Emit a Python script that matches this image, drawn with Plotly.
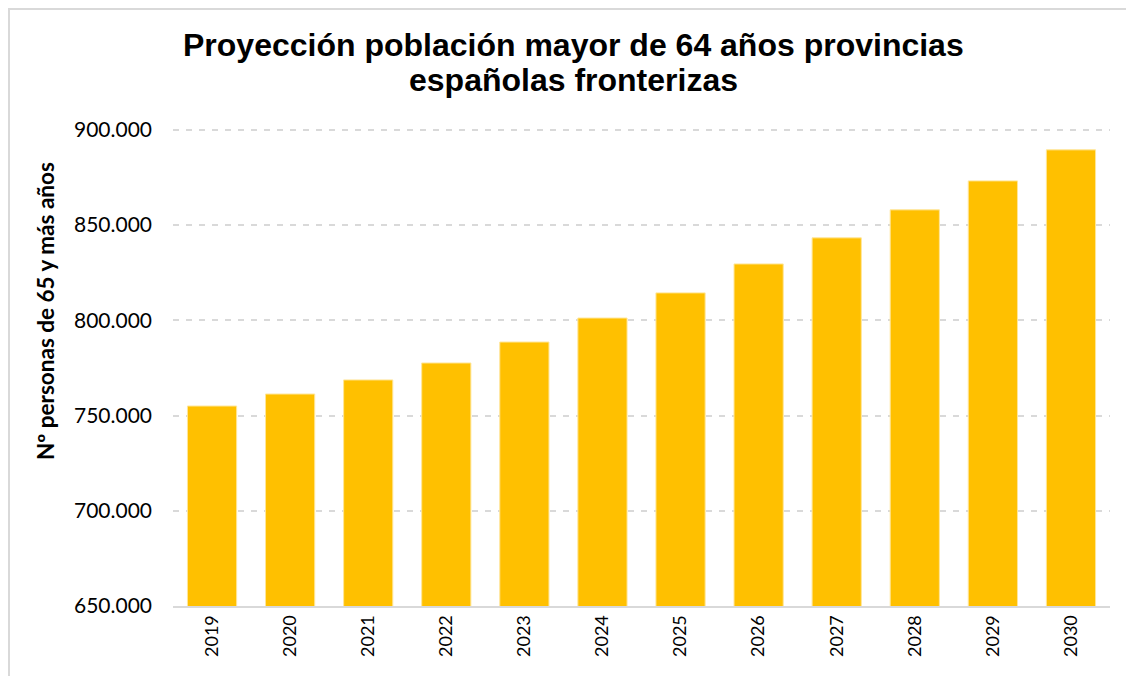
import plotly.graph_objects as go

years = ["2019", "2020", "2021", "2022", "2023", "2024", "2025", "2026", "2027", "2028", "2029", "2030"]
population = [755000, 761300, 768700, 777600, 788600, 801200, 814400, 829600, 843300, 858000, 873200, 889500]
y_ticks = [650000, 700000, 750000, 800000, 850000, 900000]

title_line1 = "Proyección población mayor de 64 años provincias"
title_line2 = "españolas fronterizas"
y_title = "Nº personas de 65 y más años"

fig = go.Figure(go.Bar(
    x=years, y=population,
    marker=dict(color="#FFC000", line=dict(color="#FFE699", width=1)),
))

L, R, T, B = 165, 32, 119, 78
PW, PH = 1134 - L - R, 676 - T - B
OFF = 8  # page offset of the figure


def px(xp):
    return (xp - OFF - L) / PW


def py(yp):
    return (676 - B - (yp - OFF)) / PH


title_font = dict(family="Liberation Sans, Arial", size=32, color="black", weight="bold")

fig.update_layout(
    width=1134, height=676,
    margin=dict(l=L, r=R, t=T, b=B),
    paper_bgcolor="white", plot_bgcolor="white",
    separators=",.",
    bargap=0.37,
    showlegend=False,
    xaxis=dict(type="category", tickangle=-90, showgrid=False,
               showline=True, linecolor="#d9d9d9", linewidth=2, ticks="",
               tickfont=dict(family="Lato, Open Sans", size=18, color="black")),
    yaxis=dict(range=[650000, 901500], tickvals=y_ticks, tickformat=",d",
               showgrid=True, gridcolor="#d9d9d9", griddash="6px,7px", gridwidth=1.5,
               zeroline=False, showline=False, ticks="", ticklabelstandoff=20,
               tickfont=dict(family="Lato, Open Sans", size=21, color="black")),
    annotations=[
        dict(text=title_line1, xref="paper", yref="paper", x=px(573), y=py(45),
             xanchor="center", yanchor="middle", showarrow=False, font=title_font),
        dict(text=title_line2, xref="paper", yref="paper", x=px(573), y=py(80),
             xanchor="center", yanchor="middle", showarrow=False, font=title_font),
        dict(text=y_title, textangle=-90, xref="paper", yref="paper",
             x=px(45), y=py(311), xanchor="center", yanchor="middle", showarrow=False,
             font=dict(family="Lato, Open Sans", size=22.5, color="black", weight="bold")),
    ],
    shapes=[dict(type="rect", xref="paper", yref="paper",
                 x0=px(9), x1=px(1180), y0=py(720), y1=py(9),
                 line=dict(color="#d9d9d9", width=2), fillcolor="rgba(0,0,0,0)", layer="below")],
)

fig.write_html("out.html")
